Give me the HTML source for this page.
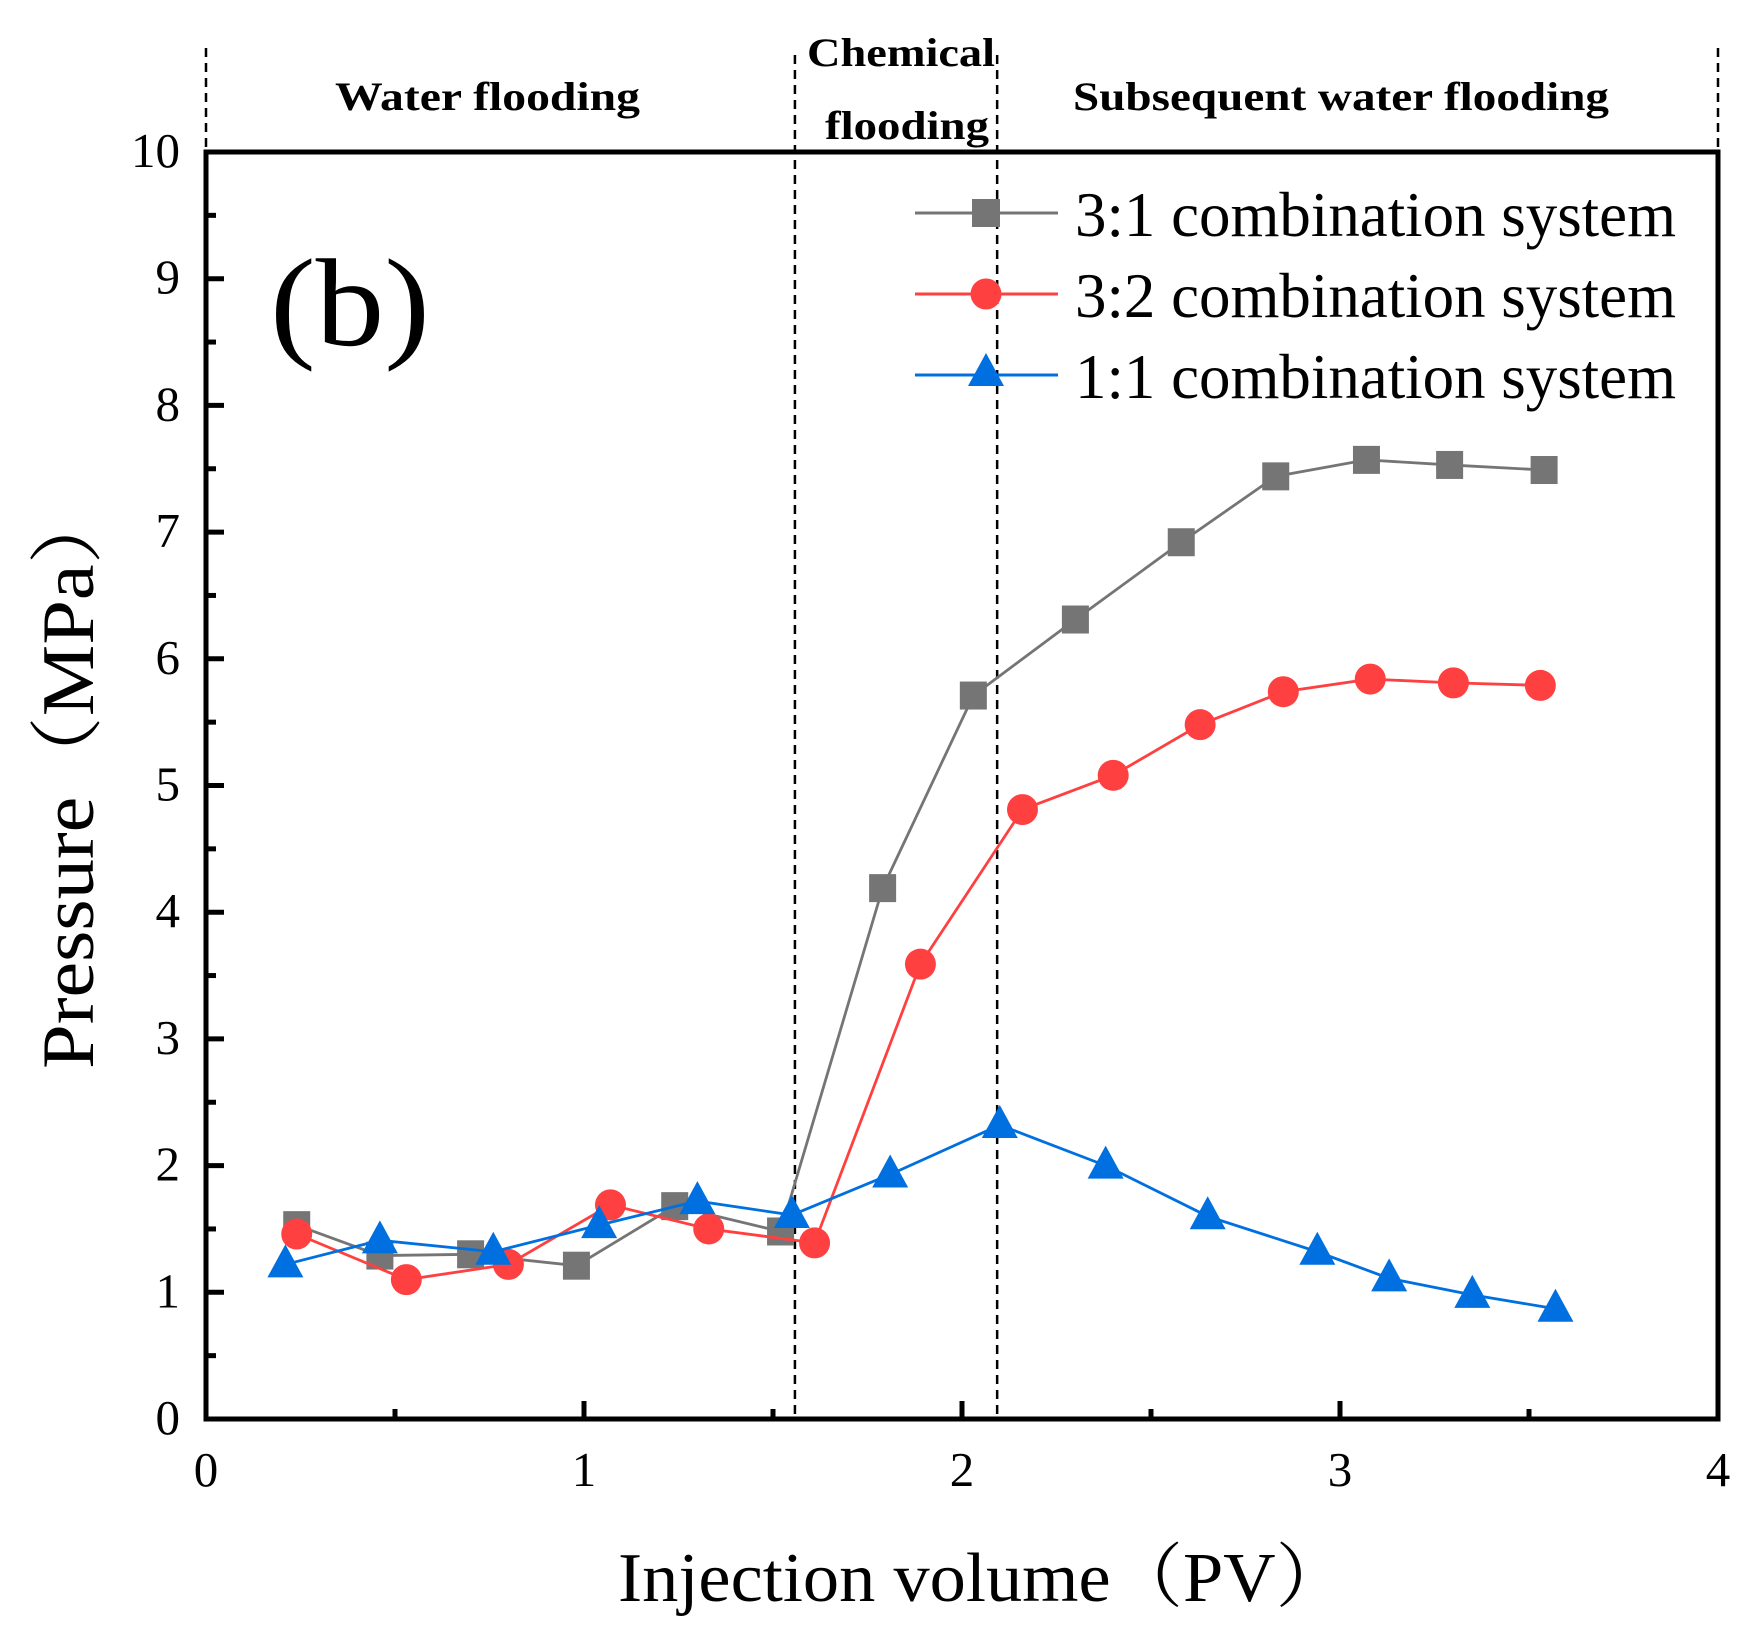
<!DOCTYPE html>
<html><head><meta charset="utf-8"><style>
html,body{margin:0;padding:0;background:#fff}
svg{display:block}
text{font-family:"Liberation Serif","Noto Serif CJK SC",serif;fill:#000}
</style></head><body>
<svg id="chart" width="1753" height="1636" viewBox="0 0 1753 1636" xmlns="http://www.w3.org/2000/svg">
<g id="grid"></g>
<g id="series"></g>
<g id="axes"></g>
</svg>
<script>
const xTicks=[0,1,2,3,4];
const yTicks=[0,1,2,3,4,5,6,7,8,9,10];
const phaseBounds=[0,1.558,2.093,4];
const x31=[0.24,0.46,0.70,0.98,1.24,1.52,1.79,2.03,2.30,2.58,2.83,3.07,3.29,3.54];
const y31=[1.53,1.29,1.30,1.21,1.68,1.48,4.19,5.71,6.31,6.92,7.44,7.57,7.53,7.49];
const x32=[0.24,0.53,0.80,1.07,1.33,1.61,1.89,2.16,2.40,2.63,2.85,3.08,3.30,3.53];
const y32=[1.46,1.10,1.22,1.69,1.50,1.39,3.59,4.81,5.08,5.48,5.74,5.84,5.81,5.79];
const x11=[0.21,0.46,0.76,1.04,1.30,1.55,1.81,2.10,2.38,2.65,2.94,3.13,3.35,3.57];
const y11=[1.22,1.41,1.32,1.53,1.72,1.61,1.93,2.32,2.00,1.60,1.32,1.11,0.98,0.87];

const L=206,R=1718,T=152,B=1419;
const sx=v=>L+(v-0)/4*(R-L);
const sy=v=>B-(v-0)/10*(B-T);
const NS="http://www.w3.org/2000/svg";
function mk(tag,attrs,parent){const e=document.createElementNS(NS,tag);for(const k in attrs)e.setAttribute(k,attrs[k]);parent.appendChild(e);return e;}
const svg=document.getElementById('chart');
const axes=document.getElementById('axes'),grid=document.getElementById('grid'),ser=document.getElementById('series');

phaseBounds.forEach((b,i)=>{
  const inner=(i>0&&i<phaseBounds.length-1);
  const ln=mk('line',{x1:sx(b),x2:sx(b),y1:inner?55:48,y2:inner?B:T,stroke:'#000','stroke-width':2.5,'stroke-dasharray':'9,6'},grid);
  
  
});

function series(xs,ys,color,shape,name){
  const g=mk('g',{},ser);
  
  
  const pl=mk('polyline',{points:xs.map((x,i)=>sx(x)+','+sy(ys[i])).join(' '),fill:'none',stroke:color,'stroke-width':2.8},g);
  
  
  xs.forEach((x,i)=>{
    const cx=sx(x),cy=sy(ys[i]);let m;
    if(shape==='sq')m=mk('rect',{x:cx-13.5,y:cy-14,width:27,height:28,fill:color},g);
    else if(shape==='ci')m=mk('circle',{cx:cx,cy:cy,r:15.5,fill:color},g);
    else m=mk('polygon',{points:`${cx},${cy-20} ${cx-18},${cy+13} ${cx+18},${cy+13}`,fill:color},g);
    
    
  });
}
series(x31,y31,'#757575','sq','series-3-1');
series(x32,y32,'#ff4040','ci','series-3-2');
series(x11,y11,'#0070e0','tri','series-1-1');

const fr=mk('rect',{x:L,y:T,width:R-L,height:B-T,fill:'none',stroke:'#000','stroke-width':5},axes);


for(let v=0;v<=4;v+=0.5){
  const major=Number.isInteger(v);
  const t=mk('line',{x1:sx(v),x2:sx(v),y1:B,y2:B-(major?18:10),stroke:'#000','stroke-width':5},axes);
  
  
}
xTicks.forEach(v=>{
  const t=mk('text',{x:sx(v),y:B+67,'font-size':49,'text-anchor':'middle'},axes);t.textContent=v;
  
  
});
for(let v=0;v<=10;v+=0.5){
  const major=Number.isInteger(v);
  const t=mk('line',{x1:L,x2:L+(major?18:10),y1:sy(v),y2:sy(v),stroke:'#000','stroke-width':5},axes);
  
  
}
yTicks.forEach(v=>{
  const t=mk('text',{x:180,y:sy(v)+15,'font-size':49,'text-anchor':'end'},axes);t.textContent=v;
  
  
});
const leg=[['3:1 combination system','#757575','sq',213],['3:2 combination system','#ff4040','ci',294],['1:1 combination system','#0070e0','tri',375]];
leg.forEach(([lab,c,s,y])=>{
  const g=mk('g',{},axes);
  
  
  mk('line',{x1:915,x2:1058,y1:y,y2:y,stroke:c,'stroke-width':3},g);
  const cx=986;
  if(s==='sq')mk('rect',{x:cx-14,y:y-14,width:28,height:28,fill:c},g);
  else if(s==='ci')mk('circle',{cx:cx,cy:y,r:15.5,fill:c},g);
  else mk('polygon',{points:`${cx},${y-22} ${cx-18},${y+11} ${cx+18},${y+11}`,fill:c},g);
  const t=mk('text',{x:1075,y:y+23,'font-size':64,textLength:601,lengthAdjust:'spacingAndGlyphs'},g);t.textContent=lab;
});
</script>
<svg style="position:absolute;left:0;top:0" width="1753" height="1636" xmlns="http://www.w3.org/2000/svg">
<text x="270" y="345" font-size="125" textLength="160" lengthAdjust="spacingAndGlyphs" style="font-family:'Liberation Serif',serif">(b)</text>
<text x="618" y="1601" font-size="70" textLength="730" lengthAdjust="spacingAndGlyphs" style="font-family:'Liberation Serif','Noto Serif CJK SC',serif">Injection volume（PV）</text>
<text transform="translate(93,1069) rotate(-90)" font-size="74" textLength="585" lengthAdjust="spacingAndGlyphs" style="font-family:'Liberation Serif','Noto Serif CJK SC',serif">Pressure（MPa）</text>
<text x="335" y="110" font-size="40" font-weight="bold" textLength="305" lengthAdjust="spacingAndGlyphs" style="font-family:'Liberation Serif',serif">Water flooding</text>
<text x="807" y="66" font-size="40" font-weight="bold" textLength="188" lengthAdjust="spacingAndGlyphs" style="font-family:'Liberation Serif',serif">Chemical</text>
<text x="825" y="139" font-size="40" font-weight="bold" textLength="164" lengthAdjust="spacingAndGlyphs" style="font-family:'Liberation Serif',serif">flooding</text>
<text x="1073" y="110" font-size="40" font-weight="bold" textLength="536" lengthAdjust="spacingAndGlyphs" style="font-family:'Liberation Serif',serif">Subsequent water flooding</text>
</svg>
</body></html>
